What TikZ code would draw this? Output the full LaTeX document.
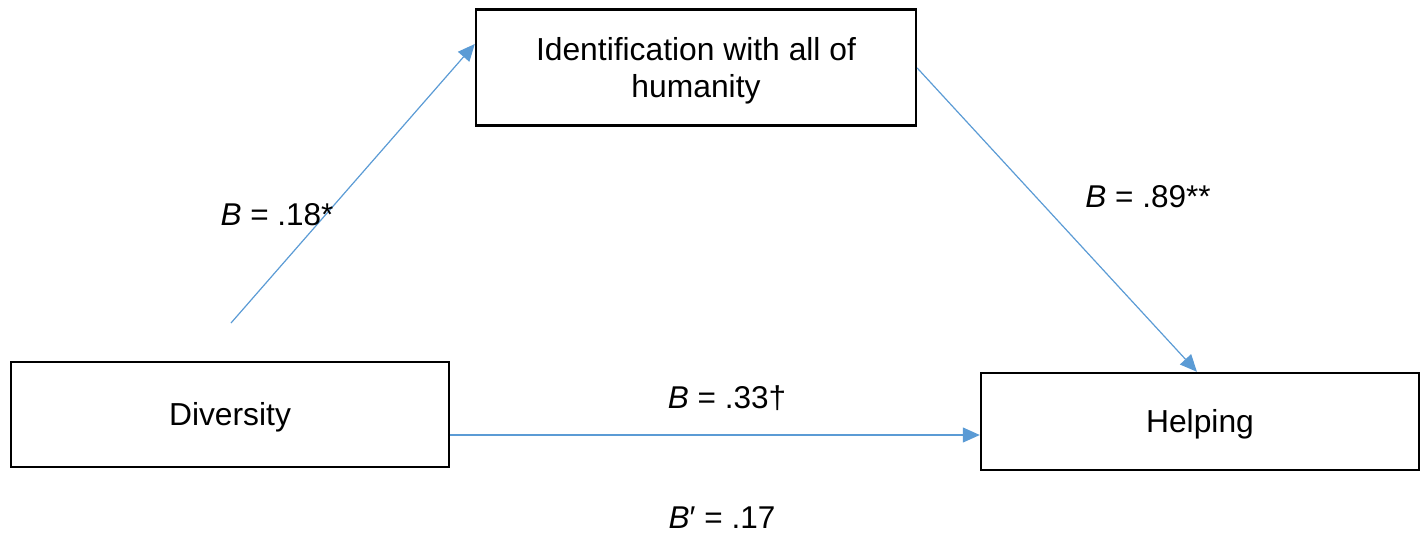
\documentclass[tikz,border=0pt]{standalone}
\usepackage{fontspec}
\setmainfont{Liberation Sans}
\usetikzlibrary{arrows.meta,calc}
\definecolor{arrowblue}{HTML}{5B9BD5}
\newcommand{\lowered}[1]{\raisebox{-4pt}[\height][\depth]{\begin{tabular}{@{}c@{}}#1\end{tabular}}}
\tikzset{
  box/.style={draw=black, line width=2.4pt, rectangle, inner sep=0pt, align=center,
    font=\fontsize{31.8}{37}\selectfont},
  link/.style={draw=arrowblue, line width=1.2pt, -{Triangle[length=17pt,width=15pt]}},
  coef/.style={font=\fontsize{31.5}{36}\selectfont, inner sep=0pt}
}
\begin{document}
\begin{tikzpicture}[x=1pt,y=-1pt]
\useasboundingbox (0,0) rectangle (1426,533);
\node[box, minimum width=440pt, minimum height=116pt] (top) at (696,67.5) {\lowered{Identification with all of\\humanity}};
\node[box, minimum width=438pt, minimum height=105pt] (div) at (230,414.5) {\lowered{Diversity}};
\node[box, minimum width=438pt, minimum height=97pt] (help) at (1200,421.5) {\lowered{Helping}};
\coordinate (s1) at (231,323);
\draw[link] (s1) -- (top.west |- 0,44);
\draw[link] (top.east |- 0,68) -- (help.north -| 1197,0);
\draw[link] (div.east |- 0,435) -- (help.west |- 0,435);
\node[coef] (c1) at (277,215) {\textit{B} = .18*};
\node[coef] (c2) at (1148,197) {\textit{B} = .89**};
\node[coef] (c3) at (727,398) {\textit{B} = .33†};
\node[coef] (c4) at (722,518) {\textit{B}′ = .17};
\end{tikzpicture}
\end{document}
